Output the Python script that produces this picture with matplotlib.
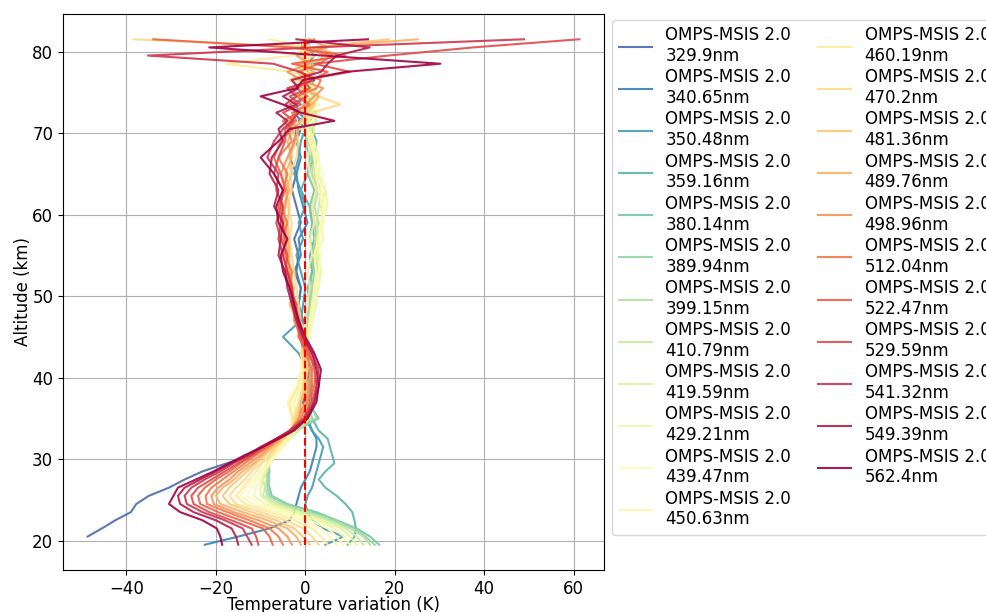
import numpy as np
import matplotlib
matplotlib.use("Agg")
import matplotlib.pyplot as plt

plt.rcParams['font.size'] = 12

# altitude grid (km)
altitude = [19.5, 20.5, 21.5, 22.5, 23.5, 24.5, 25.5, 26.5, 27.5, 28.5, 29.5, 30.5, 31.5, 32.5, 33.5,
            35, 37, 39, 41, 43, 45, 47, 49, 51, 53, 55, 57, 59, 61, 63, 65, 67, 69,
            70.5, 71.5, 72.5, 73.5, 74.5, 75.5, 76.5, 77.5, 78.5, 79.5, 80.5, 81.5]

wavelengths = ["329.9", "340.65", "350.48", "359.16", "380.14", "389.94", "399.15", "410.79",
               "419.59", "429.21", "439.47", "450.63", "460.19", "470.2", "481.36", "489.76",
               "498.96", "512.04", "522.47", "529.59", "541.32", "549.39", "562.4"]

nan = np.nan
# temperature variation (K), one list per wavelength
t_329_9 = [nan, -48.7, -45.5, -42.5, -39.0, -37.8, -35.0, -30.5, -27.0, -23.0, -17.5, -12.0, -8.0, -5.5, -3.0,
           -1.5, -0.5, 0.5, 1.0, 0.5, -0.5, -1.0, -1.5, -1.0, -2.0, -1.5, -2.5, -1.0, -2.0, -3.0, -2.0, -3.5, -2.5,
           -2.0, -1.0, -2.5, 0.5, -1.5, 0.0, -1.0, 1.0, -0.5, 0.5, -1.0, 0.0]
t_340_65 = [-22.5, -15.0, -8.0, -3.5, -2.5, -2.0, -1.5, -1.0, 0.0, 1.0, 1.5, 2.0, 2.5, 2.5, 1.5,
            0.5, 1.5, 1.0, 0.0, -0.5, -1.0, -0.5, -1.5, -1.0, -2.5, -1.0, -1.5, 0.5, -0.5, -1.5, -2.0, -1.0, -2.0,
            -1.0, 0.5, -1.5, -2.0, 0.0, 1.0, -0.5, 1.5, 0.5, 2.0, -0.5, 0.0]
t_350_48 = [4.5, 8.5, 4.0, 1.5, 0.5, 0.0, 0.5, 1.5, 2.0, 2.5, 3.0, 3.5, 4.0, 3.0, 1.5,
            0.0, 0.5, 1.5, 0.5, -1.5, -5.0, -1.0, -0.5, 0.0, -1.0, -2.0, -0.5, -1.5, 0.0, -1.0, -2.5, -1.5, -1.0,
            0.0, -1.5, 1.0, -0.5, 1.5, -1.0, 0.5, -0.5, 1.0, -1.0, 0.5, 0.0]
t_359_16 = [9.5, 11.0, 11.3, 11.0, 10.5, 9.0, 7.0, 4.5, 3.0, 4.5, 6.5, 6.0, 5.5, 5.0, 3.0,
            1.5, 0.5, 0.5, 0.0, -0.5, 0.5, 0.0, 1.0, 0.5, 1.5, 1.0, 2.0, 1.5, 1.0, -1.0, 0.5, 2.0, 2.5,
            1.5, 2.5, 0.5, 1.5, 3.0, 1.0, 2.0, 0.5, 1.5, -0.5, 1.0, 0.0]
t_380_14 = [16.5, 14.5, 11.5, 7.0, 2.5, -4.0, -7.5, -8.0, -8.5, -8.0, -8.5, -7.5, -6.0, -4.0, -2.0,
            3.0, 0.5, 0.5, -0.5, 0.0, 0.5, 0.5, 1.0, 1.0, 1.5, 2.0, 1.0, 1.5, 1.0, 2.0, 0.5, 1.0, 0.0,
            0.5, 1.5, -0.5, 1.0, 2.0, 0.0, 1.5, -0.5, 1.0, 0.5, -0.5, 0.0]
t_389_94 = [15.5, 13.5, 11.0, 6.5, 1.5, -4.5, -8.0, -8.5, -8.0, -8.5, -8.0, -8.0, -6.5, -4.5, -2.5,
            2.5, 1.0, 0.0, 0.0, 0.5, 0.0, 1.0, 1.5, 1.5, 2.0, 1.5, 2.5, 2.0, 1.5, 2.5, 1.0, 1.5, 1.0,
            1.0, -0.5, 1.5, 0.5, -1.0, 1.0, 2.0, 0.5, -0.5, 1.5, 0.0, 0.5]
t_399_15 = [14.5, 13.0, 10.0, 6.0, 0.5, -5.5, -8.5, -9.0, -8.5, -9.0, -8.5, -7.5, -6.0, -4.0, -2.0,
            1.5, 0.5, 0.0, -0.5, 0.0, 1.0, 0.5, 1.0, 2.0, 2.5, 2.5, 2.0, 3.0, 2.0, 3.0, 1.5, 2.0, 0.5,
            0.0, 2.0, 0.5, -0.5, 1.5, 2.5, 0.0, 1.0, 2.0, -0.5, 0.5, 0.0]
t_410_79 = [13.0, 11.5, 9.0, 5.0, -0.5, -6.5, -9.5, -9.0, -9.5, -8.5, -8.0, -7.0, -5.5, -3.5, -1.5,
            1.0, 0.0, -0.5, 0.0, 0.5, 0.5, 1.0, 1.5, 2.5, 3.0, 2.0, 3.0, 2.5, 3.0, 3.5, 2.0, 2.5, 1.0,
            1.5, 0.5, 2.5, 1.0, 0.0, 1.5, -1.0, 2.0, 0.5, 1.0, -0.5, 0.5]
t_419_59 = [11.5, 10.0, 8.0, 3.5, -2.0, -7.5, -10.0, -10.0, -9.5, -9.0, -8.5, -7.0, -6.0, -4.0, -2.5,
            0.0, -1.0, -0.5, 0.5, 0.0, 1.0, 1.5, 2.5, 2.0, 3.5, 3.0, 2.5, 4.0, 3.5, 4.5, 2.5, 2.0, 1.5,
            2.0, 1.0, 0.0, 2.5, 1.0, -0.5, 1.5, 0.0, -1.0, 0.5, 1.0, -0.5]
t_429_21 = [10.0, 8.5, 6.5, 2.5, -3.5, -9.0, -11.5, -11.0, -10.0, -9.0, -8.0, -6.5, -5.0, -3.5, -2.0,
            -2.0, -2.5, -1.0, 0.0, -0.5, 0.5, 1.0, 2.0, 3.0, 3.5, 2.5, 4.0, 3.5, 5.0, 4.5, 3.0, 3.0, 2.0,
            1.0, 2.5, 1.0, 0.0, 2.5, 1.0, -1.5, 1.0, 0.5, -1.0, 0.5, 0.0]
t_439_47 = [8.5, 7.0, 5.0, 1.0, -5.0, -10.5, -13.0, -12.0, -11.0, -9.5, -8.0, -6.5, -5.5, -4.0, -2.5,
            -2.5, -3.0, -1.5, -0.5, 0.0, 1.0, 1.5, 2.0, 2.5, 3.0, 3.5, 3.0, 4.0, 4.5, 3.5, 4.0, 2.5, 1.5,
            0.5, 1.5, 3.0, 1.5, -0.5, 2.0, 0.5, -1.5, 1.0, 0.0, -1.0, 0.5]
t_450_63 = [7.0, 5.5, 3.5, -0.5, -6.5, -12.0, -14.5, -13.5, -11.5, -10.0, -8.5, -7.0, -5.5, -4.0, -3.0,
            -3.0, -4.0, -2.0, -1.0, -0.5, 0.5, 1.0, 1.5, 2.0, 2.5, 2.0, 3.0, 3.5, 4.0, 3.0, 2.5, 2.0, 1.0,
            0.0, 2.0, 1.0, 3.0, 1.5, -1.0, 1.0, 0.0, -2.0, 1.5, 0.0, -1.0]
t_460_19 = [5.0, 3.5, 1.5, -2.5, -8.0, -13.5, -15.5, -14.0, -12.5, -11.0, -9.5, -7.5, -6.0, -4.5, -3.0,
            -3.0, -3.5, -1.5, -0.5, -1.0, 0.5, 0.0, 0.5, 1.0, 0.5, 1.5, 1.0, 2.0, 1.5, 2.5, 1.0, 0.5, 1.5,
            -1.0, 0.5, 2.0, 1.0, 3.5, 0.5, -1.5, -3.0, -17.8, -3.0, 0.5, -8.0]
t_470_2 = [3.0, 1.5, -0.5, -4.5, -10.0, -15.5, -17.0, -15.5, -13.5, -12.0, -10.0, -8.0, -6.5, -5.0, -3.0,
           -2.5, -1.5, -0.5, 0.0, -1.0, 0.0, -1.0, -1.5, -2.0, -2.5, -3.0, -3.5, -3.0, -4.0, -3.0, -3.5, -2.0, -1.5,
           -2.0, -0.5, 1.5, 7.8, 3.0, 1.0, -2.0, 1.5, -1.0, 2.0, 3.0, -38.4]
t_481_36 = [1.0, -0.5, -2.5, -6.5, -12.0, -17.0, -18.5, -17.0, -15.0, -13.0, -11.0, -9.0, -7.0, -5.0, -3.0,
            -2.0, -1.0, 0.0, 0.5, -0.5, -0.5, -1.5, -2.0, -3.0, -3.0, -4.0, -3.5, -4.0, -3.5, -4.5, -3.0, -3.5, -2.0,
            -3.0, -1.0, 0.5, 2.0, -1.5, -3.0, 0.5, -2.0, 2.5, 4.0, 1.5, 18.7]
t_489_76 = [-1.0, -2.0, -4.0, -8.5, -14.0, -19.0, -20.0, -18.5, -16.0, -14.0, -11.5, -9.5, -7.5, -5.5, -3.5,
            -1.5, -1.0, 0.5, 1.5, 0.0, -1.0, -2.0, -3.5, -2.5, -4.0, -3.5, -4.0, -4.5, -5.0, -3.5, -4.5, -3.0, -4.0,
            -2.5, -4.0, -1.0, 1.5, 3.0, -0.5, -3.5, 2.0, -1.5, 8.0, 2.0, 25.2]
t_498_96 = [-3.0, -4.0, -6.0, -10.5, -16.0, -20.5, -21.0, -19.5, -17.0, -15.0, -12.5, -10.0, -8.0, -5.5, -3.0,
            -1.5, 0.0, 1.0, 1.0, 0.5, -1.5, -1.0, -2.5, -3.0, -3.5, -4.0, -4.5, -5.0, -4.5, -4.0, -5.5, -4.0, -2.5,
            -1.5, -3.5, -2.0, 0.0, 2.0, 4.0, -1.0, -4.0, 1.0, -2.0, 5.0, 1.0]
t_512_04 = [-5.0, -6.0, -8.0, -12.5, -17.5, -22.0, -22.3, -21.0, -18.5, -16.0, -13.5, -11.0, -8.5, -6.0, -3.5,
            -1.0, 0.5, 1.5, 1.5, 0.0, -1.0, -2.5, -2.5, -3.5, -3.0, -4.5, -5.0, -4.0, -5.5, -5.0, -4.0, -6.0, -3.0,
            -4.0, -2.0, -3.0, 1.0, -2.0, 2.5, 3.5, -1.5, 3.0, 6.0, -1.0, 2.0]
t_522_47 = [-7.3, -8.0, -9.5, -14.5, -19.5, -23.5, -24.0, -22.5, -20.0, -17.0, -14.5, -11.5, -9.0, -6.0, -3.5,
            0.0, 1.0, 2.0, 2.5, 0.5, -1.5, -1.5, -3.0, -3.0, -4.0, -5.0, -4.5, -5.0, -6.0, -4.5, -5.5, -7.0, -5.5,
            -3.0, -5.0, -1.5, -3.5, 0.5, -2.0, 1.5, 5.0, -3.0, 9.0, -3.0, -34.0]
t_529_59 = [-10.5, -11.0, -12.0, -16.5, -21.5, -25.0, -25.5, -24.0, -21.0, -18.0, -15.0, -12.0, -9.5, -6.5, -3.5,
            -0.5, 1.5, 2.5, 2.0, 1.0, -1.0, -2.0, -2.0, -3.5, -4.5, -4.0, -5.5, -6.5, -5.5, -5.0, -7.0, -6.0, -4.5,
            -4.5, -2.5, -5.0, -1.0, -3.5, 1.0, -0.5, 10.0, 2.0, 18.5, 37.5, 61.3]
t_541_32 = [-12.0, -13.0, -14.0, -18.0, -23.0, -26.5, -27.0, -25.5, -22.5, -19.0, -16.0, -12.5, -9.5, -6.5, -3.5,
            0.5, 2.0, 2.5, 3.0, 1.5, -0.5, -1.5, -2.5, -3.0, -4.0, -5.0, -6.0, -5.5, -5.0, -6.5, -6.0, -8.5, -7.0,
            -5.0, -3.0, -1.5, -4.5, -2.0, -4.0, 2.0, -1.2, -7.2, -35.2, 2.0, 48.9]
t_549_39 = [-15.0, -15.5, -16.5, -20.0, -25.0, -28.0, -28.5, -27.0, -23.5, -20.0, -16.5, -13.0, -10.0, -6.5, -3.0,
            0.0, 2.0, 3.0, 2.5, 1.5, -0.5, -2.0, -3.0, -4.0, -4.5, -6.0, -5.5, -5.0, -7.0, -6.0, -8.0, -7.5, -5.0,
            -6.0, -4.0, -6.5, -2.0, -5.0, -1.5, -3.0, 3.5, 5.0, 7.0, 14.4, -2.0]
t_562_4 = [-18.6, -19.0, -19.8, -23.0, -28.0, -30.5, -29.5, -28.5, -24.5, -20.5, -17.0, -13.5, -9.5, -6.0, -2.5,
           0.5, 2.5, 3.0, 3.5, 2.0, 0.0, -1.5, -2.5, -3.5, -5.0, -5.5, -4.0, -6.0, -6.5, -5.0, -7.0, -10.0, -6.0,
           -3.5, 6.5, -1.0, -5.0, -10.0, -2.0, -0.5, 9.0, 30.2, 4.0, -21.5, 14.0]

profiles = [t_329_9, t_340_65, t_350_48, t_359_16, t_380_14, t_389_94, t_399_15, t_410_79,
            t_419_59, t_429_21, t_439_47, t_450_63, t_460_19, t_470_2, t_481_36, t_489_76,
            t_498_96, t_512_04, t_522_47, t_529_59, t_541_32, t_549_39, t_562_4]

colors = plt.cm.Spectral_r(np.linspace(0.05, 1, len(wavelengths)))

fig = plt.figure(figsize=(9.86, 6.12), dpi=100)
ax = fig.add_axes([63/986, 42/612, 541/986, 556/612])

for wl, prof, c in zip(wavelengths, profiles, colors):
    ax.plot(prof, altitude, color=c, alpha=0.9, lw=1.5, label="OMPS-MSIS 2.0\n" + wl + "nm")

ax.plot([0, 0], [altitude[0], altitude[-1]], 'r--', lw=1.5)

ax.grid(True)
ax.set_xlabel("Temperature variation (K)", labelpad=-1)
ax.set_ylabel("Altitude (km)", labelpad=0)
ax.legend(loc='upper left', bbox_to_anchor=(1.015, 0.99), borderaxespad=0, ncol=2,
          labelspacing=0.2, columnspacing=1.6)

fig.savefig("out.png", dpi=100)
